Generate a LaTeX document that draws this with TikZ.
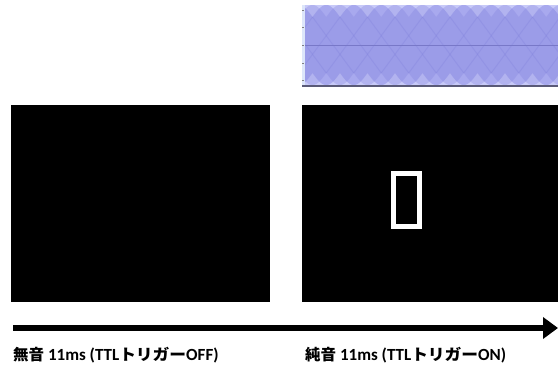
\documentclass[tikz,border=0pt]{standalone}
\usepackage{fontspec}
\setmainfont{Carlito}
\newfontfamily\jpfont{Noto Sans CJK JP}
\newfontfamily\kanafont{Noto Sans CJK JP}[FakeStretch=1.08]
\usetikzlibrary{arrows.meta}
\definecolor{wavebg}{HTML}{C8CAF8}
\definecolor{wavemid}{HTML}{A8A9EE}
\definecolor{wavedark}{HTML}{8080DC}
\definecolor{waveline}{HTML}{7878C8}
\definecolor{wavebase}{HTML}{5A5A78}
\definecolor{ruler}{HTML}{DDE6FA}
\newcommand{\cjkpart}[1]{{\fontsize{15.5}{18}\selectfont#1}}
\tikzset{
  screen/.style={fill=black, draw=none},
  lbl/.style={inner sep=0pt, font=\bfseries\fontsize{17}{19}\selectfont},
  timeline/.style={line width=6pt, -{Triangle[length=15pt,width=21pt]}},
}
\begin{document}
\begin{tikzpicture}[x=1pt,y=-1pt]
\useasboundingbox (0,0) rectangle (558,367);
% waveform strip
\begin{scope}
\clip (302,5) rectangle (558,86);
\fill[wavebg] (302,5) rectangle (558,86);
\fill[wavemid] plot[domain=302:558, samples=500] (\x,{17-12*abs(sin(6.54545*(\x-312.5)))})
  -- plot[domain=558:302, samples=500] (\x,{73+12*abs(sin(6.54545*(\x-312.5)))}) -- cycle;
\fill[wavedark, opacity=0.3] plot[domain=302:558, samples=500] (\x,{17-12*abs(cos(6.54545*(\x-312.5)))})
  -- plot[domain=558:302, samples=500] (\x,{73+12*abs(cos(6.54545*(\x-312.5)))}) -- cycle;
\foreach \k in {-3,...,10} {
  \draw[wavedark, opacity=0.3, line width=1pt] ({312.5+27.5*\k},17) -- ({312.5+27.5*(\k+1.5)},73);
  \draw[wavedark, opacity=0.3, line width=1pt] ({312.5+27.5*\k},17) -- ({312.5+27.5*(\k-1.5)},73);
}
\draw[waveline, line width=1pt] (302,45) -- (558,45);
\fill[ruler] (302,5) rectangle (305,86);
\foreach \yy in {10,27,45,63,80} \draw[gray, line width=0.8pt] (302,\yy) -- (304,\yy);
\end{scope}
\draw[wavebase, line width=1.5pt] (302,86) -- (558,86);
% screens
\node[screen, minimum width=259pt, minimum height=197pt, inner sep=0pt, anchor=north west] (left) at (11,105) {};
\node[screen, minimum width=256pt, minimum height=197pt, inner sep=0pt, anchor=north west] (right) at (302,105) {};
\node[draw=white, line width=5pt, minimum width=26pt, minimum height=53pt, inner sep=0pt] (box) at (406.5,200) {};
% timeline arrow
\coordinate (tstart) at (13,328);
\coordinate (tend) at (558,328);
\draw[timeline] (tstart) -- (tend);
% labels
\node[lbl, anchor=base west] (off) at (13,360) {\cjkpart{\jpfont 無音} 11ms (TTL\cjkpart{\kanafont トリガー}OFF)};
\node[lbl, anchor=base west] (on) at (305,360) {\cjkpart{\jpfont 純音} 11ms (TTL\cjkpart{\kanafont トリガー}ON)};
\end{tikzpicture}
\end{document}
